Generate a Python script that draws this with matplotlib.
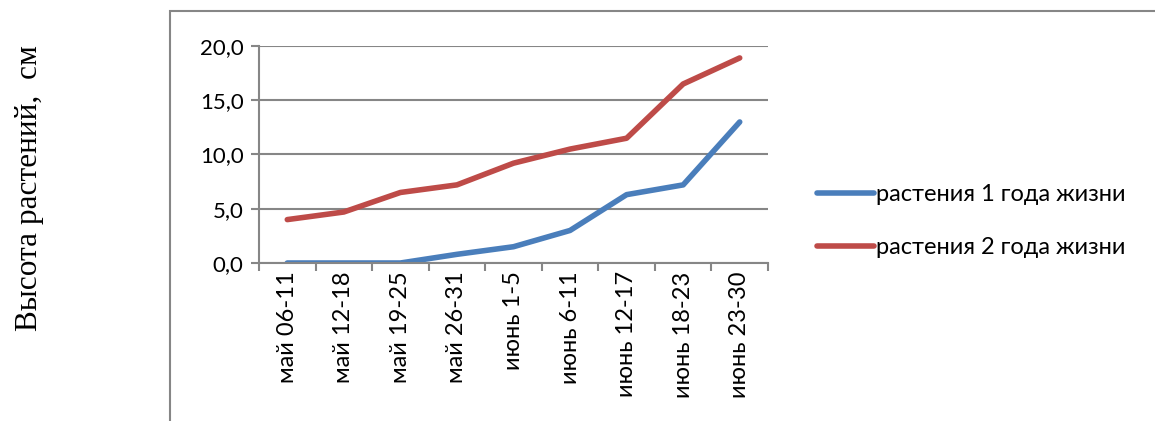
import matplotlib.pyplot as plt
from matplotlib.patches import Rectangle

periods = ['май 06-11', 'май 12-18', 'май 19-25', 'май 26-31', 'июнь 1-5',
           'июнь 6-11', 'июнь 12-17', 'июнь 18-23', 'июнь 23-30']
first_year = [0.0, 0.0, 0.0, 0.8, 1.5, 3.0, 6.3, 7.2, 13.0]
second_year = [4.0, 4.7, 6.5, 7.2, 9.2, 10.5, 11.5, 16.5, 18.9]
series_names = ['растения 1 года жизни', 'растения 2 года жизни']
y_ticks = [0, 5, 10, 15, 20]

plt.rcParams['font.family'] = ['Lato', 'DejaVu Sans']
grey = '#868686'

fig = plt.figure(figsize=(11.55, 4.21), dpi=100)
# chart frame, cut off at right and bottom like the source
fig.patches.append(Rectangle((170 / 1155, -0.1), 1.2, 1.1 - 11 / 421,
                             transform=fig.transFigure, fill=False,
                             edgecolor=grey, linewidth=1.5))

ax = fig.add_axes([259 / 1155, 1 - 263 / 421, 509 / 1155, 217 / 421])
x = list(range(len(periods)))
ax.plot(x, first_year, color='#4A7EBB', linewidth=4, label=series_names[0],
        solid_capstyle='round')
ax.plot(x, second_year, color='#BE4B48', linewidth=4, label=series_names[1],
        solid_capstyle='round')

ax.set_xlim(-0.5, len(periods) - 0.5)
ax.set_ylim(0, 20)
ax.set_yticks(y_ticks)
ax.set_yticklabels([f'{v:.1f}'.replace('.', ',') for v in y_ticks], fontsize=16)
ax.set_xticks(x)
ax.set_xticklabels(periods, rotation=90, fontsize=17)
ax.set_xticks([i - 0.5 for i in range(len(periods) + 1)], minor=True)
ax.tick_params(axis='x', which='major', length=0, pad=6)
ax.tick_params(axis='x', which='minor', length=6, color=grey, width=1.5)
ax.tick_params(axis='y', length=6, color=grey, width=1.5, pad=5)
ax.grid(axis='y', color=grey, linewidth=1.5)
ax.set_axisbelow(True)
for side in ['top', 'right']:
    ax.spines[side].set_visible(False)
for side in ['left', 'bottom']:
    ax.spines[side].set_color(grey)
    ax.spines[side].set_linewidth(1.5)

fig.legend(loc='center left', bbox_to_anchor=(796 / 1155, 1 - 221 / 421),
           frameon=False, fontsize=17, handlelength=2.4, handletextpad=0.1,
           labelspacing=1.35)

fig.text(30 / 1155, 1 - 188 / 421, 'Высота растений,  см', rotation=90,
         ha='center', va='center', fontsize=22.5, family='Liberation Serif')

fig.savefig('out.png', dpi=100)
